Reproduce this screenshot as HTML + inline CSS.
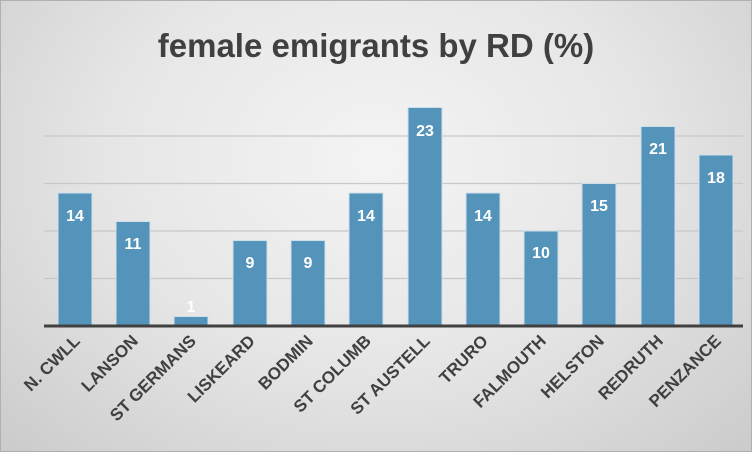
<!DOCTYPE html>
<html><head><style>
body{margin:0;}
.c{width:752px;height:452px;position:relative;overflow:hidden;box-sizing:border-box;border:1px solid #b0b0b0;
background:radial-gradient(ellipse at 50% 35%,#f4f4f4 0%,#e6e6e6 50%,#cbcbcb 100%);font-family:"Liberation Sans",sans-serif;}
</style></head><body><div class="c">
<svg width="752" height="452" style="position:absolute;left:0;top:0" font-family="Liberation Sans, sans-serif">
<text x="375" y="56" text-anchor="middle" font-size="33" font-weight="bold" fill="#404040">female emigrants by RD (%)</text>
<g stroke="#c8c8c8" stroke-width="1.2">
<line x1="43" x2="742" y1="277.5" y2="277.5"/><line x1="43" x2="742" y1="230" y2="230"/>
<line x1="43" x2="742" y1="182.5" y2="182.5"/><line x1="43" x2="742" y1="135" y2="135"/>
</g>
<g fill="#5594ba" stroke="#cfe0ea" stroke-width="1">
<rect x="57" y="192" width="34" height="133"/>
<rect x="115" y="220.5" width="34" height="104.5"/>
<rect x="173" y="315.5" width="34" height="9.5"/>
<rect x="232" y="239.5" width="34" height="85.5"/>
<rect x="290" y="239.5" width="34" height="85.5"/>
<rect x="348" y="192" width="34" height="133"/>
<rect x="407" y="106.5" width="34" height="218.5"/>
<rect x="465" y="192" width="34" height="133"/>
<rect x="523" y="230" width="34" height="95"/>
<rect x="581" y="182.5" width="34" height="142.5"/>
<rect x="640" y="125.5" width="34" height="199.5"/>
<rect x="698" y="154" width="34" height="171"/>
</g>
<line x1="43" x2="742" y1="325" y2="325" stroke="#404040" stroke-width="3"/>
<g fill="#fff" font-size="16" font-weight="bold" text-anchor="middle">
<text x="74" y="220">14</text><text x="132" y="248">11</text><text x="190" y="311">1</text>
<text x="249" y="267">9</text><text x="307" y="267">9</text><text x="365" y="220">14</text>
<text x="424" y="135">23</text><text x="482" y="220">14</text><text x="540" y="257">10</text>
<text x="598" y="210">15</text><text x="657" y="153">21</text><text x="715" y="182">18</text>
</g>
<g fill="#404040" font-size="17" font-weight="bold" text-anchor="end">
<text transform="translate(80,341) rotate(-45)">N. CWLL</text>
<text transform="translate(138,341) rotate(-45)">LANSON</text>
<text transform="translate(196,341) rotate(-45)">ST GERMANS</text>
<text transform="translate(255,341) rotate(-45)">LISKEARD</text>
<text transform="translate(313,341) rotate(-45)">BODMIN</text>
<text transform="translate(371,341) rotate(-45)">ST COLUMB</text>
<text transform="translate(430,341) rotate(-45)">ST AUSTELL</text>
<text transform="translate(488,341) rotate(-45)">TRURO</text>
<text transform="translate(546,341) rotate(-45)">FALMOUTH</text>
<text transform="translate(604,341) rotate(-45)">HELSTON</text>
<text transform="translate(663,341) rotate(-45)">REDRUTH</text>
<text transform="translate(721,341) rotate(-45)">PENZANCE</text>
</g>
</svg></div></body></html>
